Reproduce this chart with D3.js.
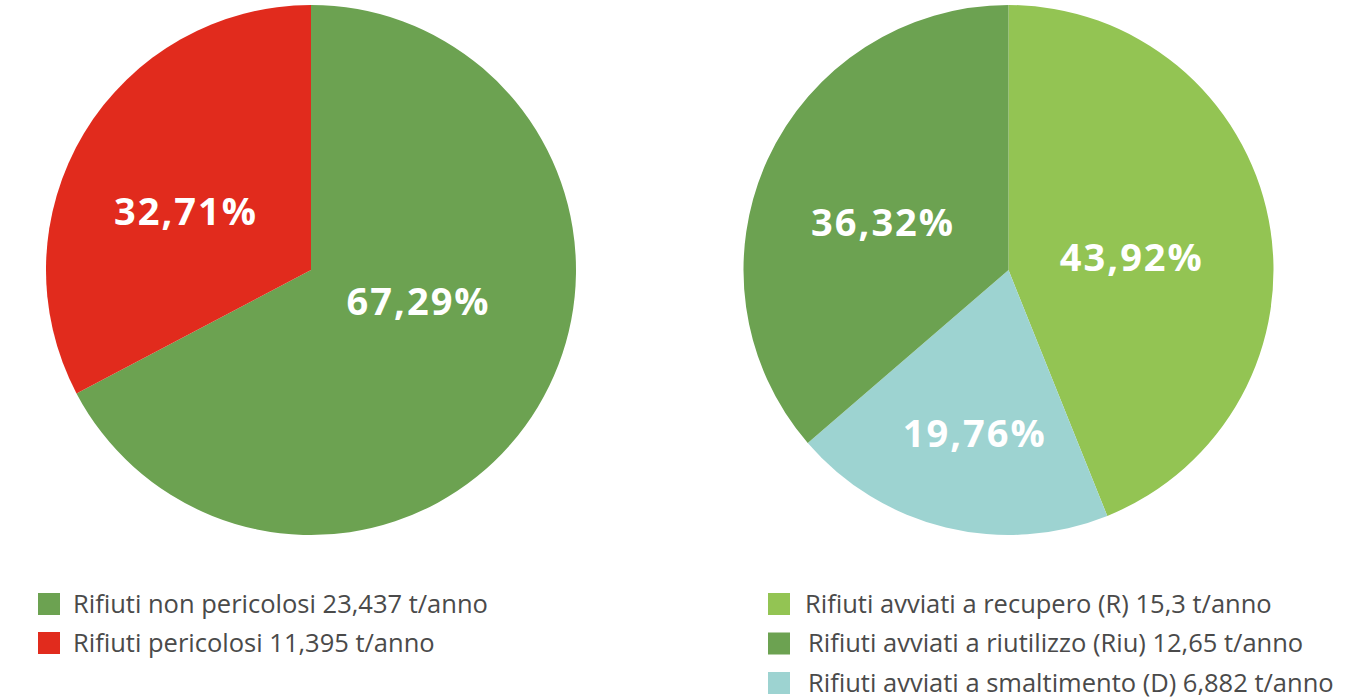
<!DOCTYPE html>
<html><head><meta charset="utf-8">
<script src="https://cdn.jsdelivr.net/npm/d3@7"></script>
<style>
html,body{margin:0;padding:0;background:#fff;}
svg{display:block;}
</style></head>
<body>
<svg id="chart" width="1366" height="698"></svg>
<script>
// ---- data ----
const leftCategories = ["Rifiuti non pericolosi 23,437 t/anno", "Rifiuti pericolosi 11,395 t/anno"];
const leftValues = [67.29, 32.71];
const leftLabels = ["67,29%", "32,71%"];
const leftColors = ["#6ca251", "#e12b1d"];

const rightCategories = ["Rifiuti avviati a recupero (R) 15,3 t/anno", "Rifiuti avviati a smaltimento (D) 6,882 t/anno", "Rifiuti avviati a riutilizzo (Riu) 12,65 t/anno"];
const rightValues = [43.92, 19.76, 36.32];
const rightLabels = ["43,92%", "19,76%", "36,32%"];
const rightColors = ["#93c453", "#9dd3d1", "#6ca251"];
// legend order on the right
const rightLegendOrder = [0, 2, 1];

// ---- layout (not data) ----
const leftLayout = {cx: 311, cy: 270, r: 265, labelAngleOffset: [-15, -6], labelRadius: [112, 138]};
const rightLayout = {cx: 1008.5, cy: 270, r: 265, labelAngleOffset: [5, -2, -4], labelRadius: [124, 167, 134]};

const svg = d3.select("#chart");
const pie = d3.pie().sort(null).value(d => d);

function drawPie(values, labels, colors, L) {
  const g = svg.append("g").attr("transform", `translate(${L.cx},${L.cy})`);
  const arc = d3.arc().innerRadius(0).outerRadius(L.r);
  const arcs = pie(values);
  g.selectAll("path").data(arcs).join("path")
    .attr("d", arc).attr("fill", (d, i) => colors[i]);
  g.selectAll("text").data(arcs).join("text")
    .attr("transform", (d, i) => {
      const a = (d.startAngle + d.endAngle) / 2 + L.labelAngleOffset[i] * Math.PI / 180;
      const rr = L.labelRadius[i];
      return `translate(${rr * Math.sin(a)},${-rr * Math.cos(a)})`;
    })
    .attr("text-anchor", "middle")
    .attr("dy", "0.36em")
    .attr("fill", "#fff")
    .style("font-family", "'Open Sans', Lato, sans-serif")
    .style("font-weight", 700)
    .style("font-size", "38px")
    .style("letter-spacing", "2px")
    .text((d, i) => labels[i]);
}

drawPie(leftValues, leftLabels, leftColors, leftLayout);
drawPie(rightValues, rightLabels, rightColors, rightLayout);

function drawLegend(items, x, y0, step, sq, textX) {
  const g = svg.append("g");
  const row = g.selectAll("g").data(items).join("g")
    .attr("transform", (d, i) => `translate(${x},${y0 + i * step})`);
  row.append("rect").attr("x", 0).attr("y", -sq / 2).attr("width", sq).attr("height", sq)
    .attr("fill", d => d.color);
  row.append("text").attr("x", d => textX + (d.dx || 0)).attr("dy", "0.35em")
    .attr("fill", "#4a4a4a")
    .style("font-family", "'Open Sans', Lato, sans-serif")
    .style("font-weight", 400)
    .style("font-size", "25.5px")
    .text(d => d.label);
}

drawLegend(leftCategories.map((c, i) => ({label: c, color: leftColors[i]})), 38, 604, 39, 22, 35);
drawLegend(rightLegendOrder.map((k, j) => ({label: rightCategories[k], color: rightColors[k], dx: j === 0 ? 0 : 3})), 768, 604, 39.5, 22, 37);
</script>
</body></html>
